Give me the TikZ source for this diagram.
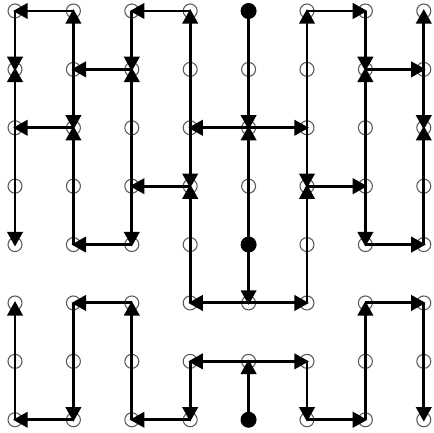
\documentclass[tikz,border=0pt]{standalone}
\usetikzlibrary{arrows.meta}

\tikzset{
  site/.style={draw=black!65,line width=0.8pt,circle,inner sep=0pt,minimum size=10.5pt},
  source/.style={fill=black,circle,inner sep=0pt,minimum size=12pt},
  flow/.style={line width=2.2pt,-{Triangle[length=11pt,width=11.5pt]},shorten >=-1.5pt}
}

\begin{document}
\begin{tikzpicture}[x=43.8pt,y=-43.8pt]
  \useasboundingbox (-0.257,-0.188) rectangle (7.175,7.226);
  % grid of sites
  \foreach \c in {0,...,7}
    \foreach \r in {0,...,7}
      \node[site] (v\c\r) at (\c,\r) {};
  % flow along the tree
  \foreach \a/\b in {10/00,11/10,30/20,32/30,40/42,52/50,50/60,71/70,
                     00/01,02/01,21/11,11/12,20/21,23/21,60/61,63/61,
                     61/71,71/72,74/72,12/02,14/12,42/32,42/52,32/33,
                     35/33,52/53,55/53,44/42,33/23,53/63,02/04,23/24,
                     24/14,63/64,64/74,44/45,45/35,45/55,07/05,25/15,
                     15/17,27/25,65/75,67/65,75/77,46/36,46/56,47/46,
                     36/37,56/57,17/07,37/27,57/67}
    \draw[flow] (v\a.center) -- (v\b.center);
  % sources
  \node[source] (s1) at (v40) {};
  \node[source] (s2) at (v44) {};
  \node[source] (s3) at (v47) {};
\end{tikzpicture}
\end{document}
